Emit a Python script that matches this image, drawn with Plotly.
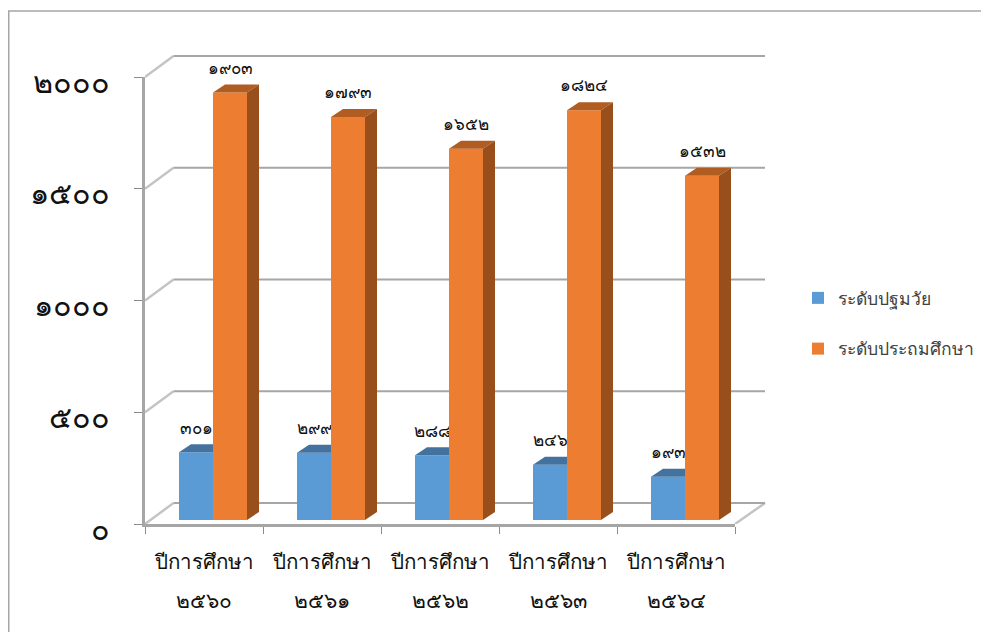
import plotly.graph_objects as go

categories = ["ปีการศึกษา"] * 5
years = ["๒๕๖๐", "๒๕๖๑", "๒๕๖๒", "๒๕๖๓", "๒๕๖๔"]
preschool = [301, 299, 288, 246, 193]
primary = [1903, 1793, 1652, 1824, 1532]
preschool_name = "ระดับปฐมวัย"
primary_name = "ระดับประถมศึกษา"
axis_values = [0, 500, 1000, 1500, 2000]

THAI = str.maketrans("0123456789", "๐๑๒๓๔๕๖๗๘๙")
def th(v):
    return str(v).translate(THAI)

# layout in px; the page body adds an 8 px margin, so figure coordinates are page coordinates - 8
PAGE = 8
W, H = 989 - PAGE, 632 - PAGE
L, B = 145 - PAGE, 524 - PAGE           # front axes corner
FRONT_R, FRONT_T = 735 - PAGE, 77 - PAGE  # end of the front axes
R, T = 772 - PAGE, 50 - PAGE            # whole drawing area, with the back wall
EXTRA = 10                              # drawing area runs this far below the zero line
LABEL_DROP = 5                          # value labels sit this far below their ticks
PW, PH = R - L, B + EXTRA - T
CAT = (FRONT_R - L) / 5
AXS = (B - FRONT_T) / 2000
BARS = 0.2247
BASE = 520 - PAGE
front_x_domain = [0, (FRONT_R - L) / PW]
front_y_domain = [EXTRA / PH, (B + EXTRA - FRONT_T) / PH]
label_domain = [(EXTRA - LABEL_DROP) / PH, (B + EXTRA - FRONT_T - LABEL_DROP) / PH]
wide_y_domain = [EXTRA / PH, 1]
wide_x_range = [-0.5, -0.5 + PW / CAT]
wall_range = [0, (B - T) / AXS]
bar_range = [-(B - BASE) / BARS, (BASE - T) / BARS]
WALL_DX, WALL_DV = 28.5 / CAT, 21 / AXS
DEPTH_DX, DEPTH_DV = 12 / CAT, 8 / BARS
BW = 34 / CAT
OFF_BLUE, OFF_ORANGE = -25 / CAT, 9 / CAT
GRID = "#a6a6a6"
idx = list(range(len(years)))


def paper_y(py):
    return (B + EXTRA - (py - PAGE)) / PH


def paper_x(px):
    return (px - PAGE - L) / PW


fig = go.Figure()

xs_back, ys_back, xs_diag, ys_diag = [], [], [], []
for v in axis_values:
    xs_back += [-0.5 + WALL_DX, 4.5 + WALL_DX + 1.5 / CAT, None]
    ys_back += [v + WALL_DV, v + WALL_DV, None]
    xs_diag += [-0.5, -0.5 + WALL_DX, None]
    ys_diag += [v, v + WALL_DV, None]
xs_diag += [4.5, 4.5 + WALL_DX + 1.5 / CAT, None]
ys_diag += [0, WALL_DV, None]
fig.add_trace(go.Scatter(x=xs_diag, y=ys_diag, xaxis="x2", yaxis="y2", mode="lines", showlegend=False,
                         hoverinfo="skip", line=dict(color="#c4c4c4", width=2.5)))
fig.add_trace(go.Scatter(x=xs_back, y=ys_back, xaxis="x2", yaxis="y2", mode="lines", showlegend=False,
                         hoverinfo="skip", line=dict(color=GRID, width=2.2)))


def add_series(vals, name, color, top, side, off, yaxis, clip_right=None):
    fig.add_trace(go.Bar(x=idx, y=vals, width=BW, offset=off, name=name, xaxis="x2", yaxis=yaxis,
                         legendgroup=name, marker=dict(color=color, line=dict(width=0))))
    tx, ty, sx, sy = [], [], [], []
    for i, v in zip(idx, vals):
        x0, x1 = i + off, i + off + BW
        if clip_right:
            tx += [x0, x1, x1, x0 + DEPTH_DX, x0, None]
            ty += [v, v, v + DEPTH_DV, v + DEPTH_DV, v, None]
        else:
            tx += [x0, x1, x1 + DEPTH_DX, x0 + DEPTH_DX, x0, None]
            ty += [v, v, v + DEPTH_DV, v + DEPTH_DV, v, None]
            sx += [x1, x1 + DEPTH_DX, x1 + DEPTH_DX, x1, x1, None]
            sy += [0, DEPTH_DV, v + DEPTH_DV, v, 0, None]
    fig.add_trace(go.Scatter(x=tx, y=ty, mode="lines", fill="toself", fillcolor=top, xaxis="x2", yaxis=yaxis,
                             line=dict(width=0, color=top), showlegend=False, hoverinfo="skip"))
    if sx:
        fig.add_trace(go.Scatter(x=sx, y=sy, mode="lines", fill="toself", fillcolor=side, xaxis="x2", yaxis=yaxis,
                                 line=dict(width=0, color=side), showlegend=False, hoverinfo="skip"))
    fig.add_trace(go.Scatter(x=[i + off + BW / 2 for i in idx],
                             y=[v + 23 / BARS for v in vals],
                             mode="text", text=[th(v) for v in vals], textposition="middle center",
                             textfont=dict(size=17, color="#111111"), xaxis="x2", yaxis=yaxis,
                             showlegend=False, hoverinfo="skip", cliponaxis=False))


add_series(preschool, preschool_name, "#5B9BD5", "#44729F", None, OFF_BLUE, "y3", clip_right=True)
add_series(primary, primary_name, "#ED7D31", "#B15C21", "#984F1C", OFF_ORANGE, "y4")

for i, yr in zip(idx, years):
    fig.add_annotation(x=i, y=0, xref="x", yref="y", text=yr, showarrow=False,
                       yanchor="middle", yshift=-(600 - 524),
                       font=dict(size=21, color="#111111"))

fig.update_layout(
    width=W, height=H, autosize=False,
    margin=dict(l=L, r=W - R, t=T, b=H - B - EXTRA, pad=0, autoexpand=False),
    paper_bgcolor="white", plot_bgcolor="rgba(0,0,0,0)",
    barmode="overlay",
    font=dict(family="Noto Sans, sans-serif", color="#111111"),
    # front axes: lines, ticks and category labels
    xaxis=dict(range=[-0.5, 4.5], domain=front_x_domain, anchor="y", tickmode="array", tickvals=idx,
               ticktext=categories, ticks="",
               tickfont=dict(size=20.5, color="#111111"), showgrid=False, zeroline=False,
               showline=True, linecolor=GRID, linewidth=3,
               minor=dict(tickmode="array", tickvals=[i - 0.5 for i in range(6)], ticks="outside",
                          ticklen=7, tickwidth=1, tickcolor="#8c8c8c", showgrid=False),
               ticklabelstandoff=17),
    yaxis=dict(range=[0, 2000], domain=front_y_domain, anchor="x", tickmode="array", tickvals=axis_values,
               showticklabels=False, ticks="outside", ticklen=8, tickwidth=1, tickcolor="#8c8c8c",
               showgrid=False, zeroline=False, showline=True, linecolor=GRID, linewidth=3),
    # wider hidden axes for the back wall and the bars
    xaxis2=dict(range=wide_x_range, domain=[0, 1], anchor="y2", visible=False),
    yaxis2=dict(range=wall_range, domain=wide_y_domain, anchor="x2", visible=False),
    yaxis3=dict(range=bar_range, overlaying="y2", anchor="x2", visible=False),
    yaxis4=dict(range=bar_range, overlaying="y2", anchor="x2", visible=False),
    # a copy of the value axis that only carries the labels, which sit slightly below their ticks
    yaxis5=dict(range=[0, 2000], domain=label_domain, side="left", anchor="x",
                tickmode="array", tickvals=axis_values, ticktext=[th(v) for v in axis_values],
                ticks="", showgrid=False, zeroline=False, showline=False,
                tickfont=dict(size=30.5, color="#111111"), ticklabelstandoff=34),
    legend=dict(x=paper_x(798), y=paper_y(323.5), xanchor="left", yanchor="middle",
                traceorder="grouped", tracegroupgap=25, bgcolor="rgba(0,0,0,0)",
                font=dict(size=17.5, color="#404040")),
    shapes=[
        dict(type="rect", xref="paper", yref="paper",
             x0=paper_x(PAGE + 0.75), x1=paper_x(1000),
             y0=paper_y(650), y1=paper_y(11),
             line=dict(color="#a6a6a6", width=1.5)),
    ],
    showlegend=True,
)
# empty traces keep the front axes and the label axis on the page
fig.add_trace(go.Scatter(x=[None], y=[None], xaxis="x", yaxis="y", showlegend=False, hoverinfo="skip"))
fig.add_trace(go.Scatter(x=[None], y=[None], xaxis="x", yaxis="y5", showlegend=False, hoverinfo="skip"))
fig.write_html("out.html")
